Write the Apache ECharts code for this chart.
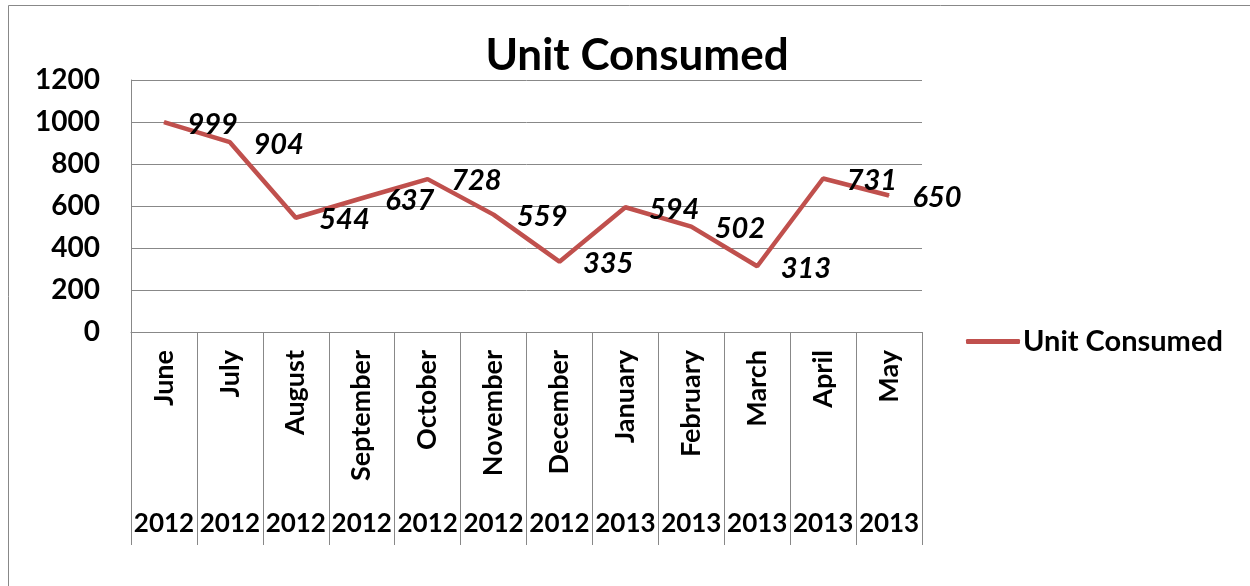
<!DOCTYPE html>
<html>
<head>
    <meta charset="utf-8">
    <title>Unit Consumed</title>
    <script src="https://cdn.jsdelivr.net/npm/echarts@6/dist/echarts.min.js"></script>
</head>
<body style="margin:0">
    <div id="container" style="width:1250px;height:586px;"></div>
    <script type="text/javascript">
        var months = ['June', 'July', 'August', 'September', 'October', 'November', 'December',
                      'January', 'February', 'March', 'April', 'May'];
        var years = ['2012', '2012', '2012', '2012', '2012', '2012', '2012',
                     '2013', '2013', '2013', '2013', '2013'];
        var unitConsumed = [999, 904, 544, 637, 728, 559, 335, 594, 502, 313, 731, 650];

        var font = 'Lato, "Open Sans", sans-serif';
        var gray = '#888888';

        var myChart = echarts.init(document.getElementById('container'));
        var option = {
            backgroundColor: '#fff',
            textStyle: { fontFamily: font },
            title: {
                text: 'Unit Consumed',
                left: 632, top: 29, textAlign: 'center',
                textStyle: { fontSize: 44, fontWeight: 'bold', color: '#000', fontFamily: font }
            },
            legend: {
                data: ['Unit Consumed'],
                left: 961, top: 322,
                icon: 'roundRect',
                itemWidth: 54, itemHeight: 5, itemGap: 6,
                textStyle: { fontSize: 29, fontWeight: 'bold', color: '#000', fontFamily: font, padding: [0, 0, 0, -2] }
            },
            graphic: [{
                type: 'rect',
                shape: { x: 8.5, y: 5.5, width: 1400, height: 800 },
                style: { fill: 'none', stroke: gray, lineWidth: 1 },
                silent: true
            }],
            grid: { left: 131, right: 328, top: 80, bottom: 254 },
            xAxis: [
                {
                    type: 'category',
                    data: months,
                    axisLine: { lineStyle: { color: gray, width: 1 } },
                    axisTick: { show: true, length: 213, lineStyle: { color: gray, width: 1 } },
                    axisLabel: {
                        rotate: 90, margin: 18, interval: 0,
                        fontSize: 27, fontWeight: 'bold', color: '#000', fontFamily: font
                    }
                },
                {
                    type: 'category',
                    data: years,
                    position: 'bottom',
                    offset: 170,
                    axisLine: { show: false },
                    axisTick: { show: false },
                    axisLabel: {
                        interval: 0, margin: 9,
                        fontSize: 26, fontWeight: 'bold', color: '#000', fontFamily: font
                    }
                }
            ],
            yAxis: {
                type: 'value',
                min: 0, max: 1200, interval: 200,
                axisLine: { show: true, lineStyle: { color: gray } },
                axisTick: { show: false },
                splitLine: { lineStyle: { color: gray, width: 1 } },
                axisLabel: {
                    margin: 31,
                    formatter: function (v) { return String(v); },
                    fontSize: 28, fontWeight: 'bold', color: '#000', fontFamily: font
                }
            },
            series: [{
                name: 'Unit Consumed',
                type: 'line',
                data: unitConsumed,
                symbol: 'circle',
                symbolSize: 1,
                color: '#C0504D',
                itemStyle: { color: '#C0504D' },
                lineStyle: { width: 4.5, color: '#C0504D' },
                label: {
                    show: true, position: 'right', distance: 23, offset: [0, 2],
                    fontSize: 29, fontWeight: 'bold', fontStyle: 'italic', color: '#000', fontFamily: font
                }
            }]
        };
        myChart.setOption(option);
    </script>
</body>
</html>
